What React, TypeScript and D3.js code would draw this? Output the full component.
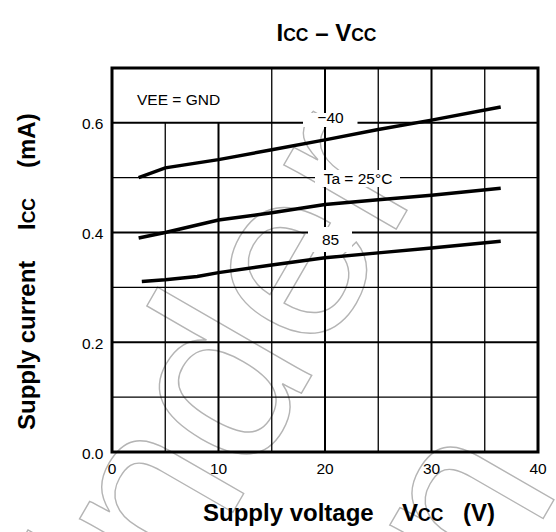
import React from "react";
import * as d3 from "d3";

const W = 556;
const H = 532;

// Data (Vcc in V, Icc in mA)
const seriesM40: [number, number][] = [
  [2.5, 0.5], [5, 0.518], [10, 0.533], [15, 0.551], [20, 0.569], [25, 0.588], [30, 0.605], [36.5, 0.629],
];
const series25: [number, number][] = [
  [2.5, 0.39], [5, 0.4], [10, 0.423], [15, 0.436], [20, 0.451], [25, 0.46], [30, 0.468], [36.5, 0.481],
];
const series85: [number, number][] = [
  [2.8, 0.311], [5, 0.314], [8, 0.32], [10, 0.327], [15, 0.341], [20, 0.354], [25, 0.363], [30, 0.372], [36.5, 0.384],
];
const xTicks = [0, 10, 20, 30, 40];
const yTicks = [0.0, 0.2, 0.4, 0.6];
const xGrid = [5, 10, 15, 20, 25, 30, 35];
const yGrid = [0.1, 0.2, 0.3, 0.4, 0.5, 0.6];
const watermarkWords = ["Under", "construction"];

const FONT = "'Liberation Sans', Arial, Helvetica, sans-serif";

export default function App() {
  const x = d3.scaleLinear().domain([0, 40]).range([112, 538]);
  const y = d3.scaleLinear().domain([0, 0.7]).range([452, 68]);
  const line = d3
    .line<[number, number]>()
    .x((d) => x(d[0]))
    .y((d) => y(d[1]));

  const isMajorX = (v: number) => v % 10 === 0;
  const isMajorY = (v: number) => Math.round(v * 10) % 2 === 0;

  return (
    <svg
      width={W}
      height={H}
      style={{ position: "absolute", left: 0, top: 0, background: "#fff" }}
      fontFamily={FONT}
    >
      <rect x={0} y={0} width={W} height={H} fill="#fff" />

      {/* watermark */}
      <g fill="none" stroke="#b4b4b4" strokeWidth={1.4} fontSize={245} fontFamily={FONT}>
        <text transform="translate(95,751) rotate(-60)">{watermarkWords[0]}</text>
        <text transform="translate(562,486) rotate(-60)" textAnchor="end">
          {watermarkWords[1]}
        </text>
      </g>

      {/* grid */}
      {xGrid.map((v) => (
        <line
          key={"vx" + v}
          x1={x(v)}
          x2={x(v)}
          y1={y(0)}
          y2={v < 15 ? y(0.6) : y(0.7)}
          stroke="#000"
          strokeWidth={isMajorX(v) ? 2 : 1.3}
        />
      ))}
      {yGrid.map((v) => (
        <line
          key={"hy" + v}
          x1={x(0)}
          x2={x(40)}
          y1={y(v)}
          y2={y(v)}
          stroke="#000"
          strokeWidth={isMajorY(v) ? 2 : 1.3}
        />
      ))}

      {/* label backgrounds */}
      <rect x={303} y={113} width={54.5} height={14} fill="#fff" />
      <rect x={315} y={170} width={85} height={17} fill="#fff" />
      <rect x={308} y={227} width={44} height={25} fill="#fff" />

      {/* frame */}
      <rect
        x={x(0)}
        y={y(0.7)}
        width={x(40) - x(0)}
        height={y(0) - y(0.7)}
        fill="none"
        stroke="#000"
        strokeWidth={3}
      />

      {/* curves */}
      {[seriesM40, series25, series85].map((s, i) => (
        <path key={"c" + i} d={line(s) || ""} fill="none" stroke="#000" strokeWidth={3.5} />
      ))}

      {/* annotations */}
      <g fontSize={15.5} fill="#000">
        <text x={137} y={105.3}>VEE = GND</text>
        <text x={330.5} y={123.3} textAnchor="middle">−40</text>
        <text x={358} y={183.5} textAnchor="middle">Ta = 25°C</text>
        <text x={330.5} y={245} textAnchor="middle">85</text>
      </g>

      {/* tick labels */}
      <g fontSize={15.5} fill="#000">
        {yTicks.map((v) => (
          <text key={"yt" + v} x={103.5} y={y(v) + 6.5} textAnchor="end">
            {v.toFixed(1)}
          </text>
        ))}
        {xTicks.map((v) => (
          <text key={"xt" + v} x={x(v)} y={474.3} textAnchor="middle">
            {v}
          </text>
        ))}
      </g>

      {/* title */}
      <text x={326.5} y={40.7} fontSize={24} fontWeight="bold" textAnchor="middle">
        I<tspan fontSize={17.5}>CC</tspan> – V<tspan fontSize={17.5}>CC</tspan>
      </text>

      {/* x axis label */}
      <g fontSize={24} fontWeight="bold">
        <text x={203} y={521}>Supply voltage</text>
        <text x={402} y={521}>
          V<tspan fontSize={17.5}>CC</tspan>
        </text>
        <text x={463} y={521}>(V)</text>
      </g>

      {/* y axis label */}
      <g fontSize={24} fontWeight="bold">
        <text transform="translate(35.4,430) rotate(-90)">Supply current</text>
        <text transform="translate(35.4,230) rotate(-90)">
          I<tspan fontSize={17.5}>CC</tspan>
        </text>
        <text transform="translate(35.4,168) rotate(-90)">(mA)</text>
      </g>
    </svg>
  );
}
